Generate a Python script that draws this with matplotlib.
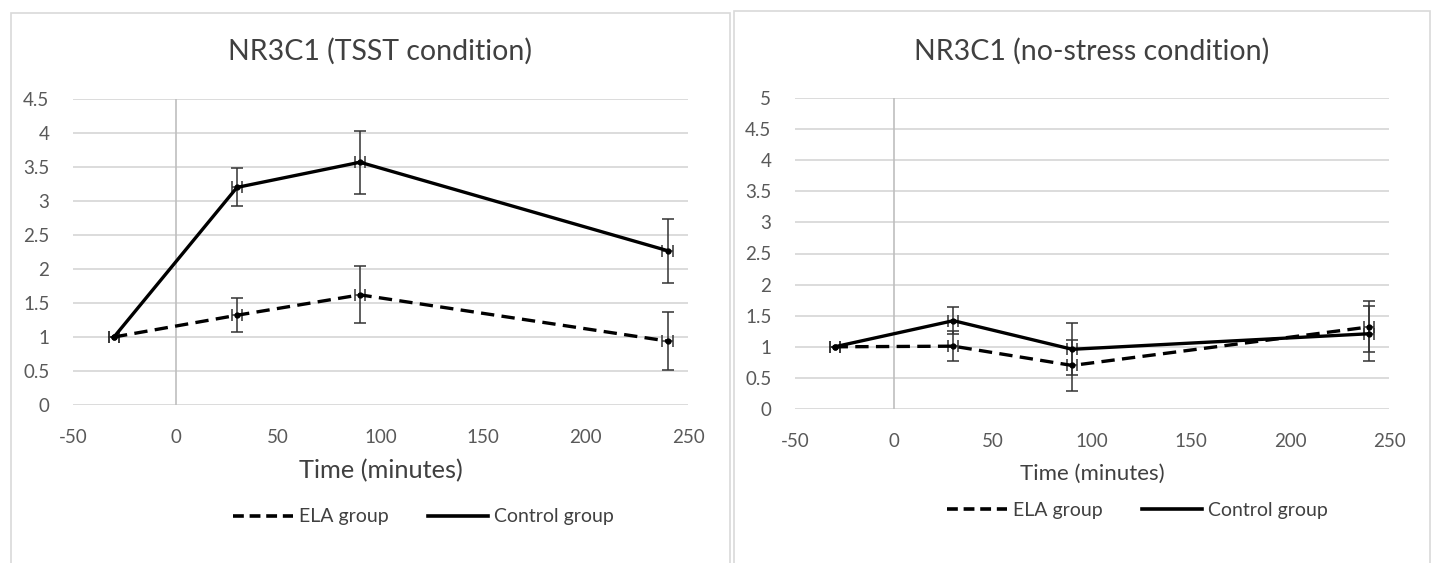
import numpy as np
import matplotlib.pyplot as plt
from matplotlib.patches import Rectangle
from matplotlib.lines import Line2D

plt.rcParams['font.family'] = ['Lato', 'DejaVu Sans']
plt.rcParams['axes.unicode_minus'] = False

# sampling times (minutes relative to stressor)
times = [-30, 30, 90, 240]

# NR3C1, TSST condition
tsst_ela = [1.0, 1.32, 1.62, 0.94]
tsst_ela_err = [0.0, 0.25, 0.42, 0.43]
tsst_ctrl = [1.0, 3.20, 3.57, 2.27]
tsst_ctrl_err = [0.0, 0.28, 0.46, 0.47]

# NR3C1, no-stress condition
ns_ela = [1.0, 1.01, 0.70, 1.32]
ns_ela_err = [0.0, 0.24, 0.41, 0.41]
ns_ctrl = [1.0, 1.42, 0.96, 1.21]
ns_ctrl_err = [0.0, 0.22, 0.42, 0.44]

xticks = [-50, 0, 50, 100, 150, 200, 250]

GRID = "#d9d9d9"
TXT = "#595959"
DASH = (0, (4, 2.2))

W, H = 1434, 563
fig = plt.figure(figsize=(W / 100, H / 100), dpi=100)

# panel frames (pixel boxes -> figure fraction)
for x0, y0, x1 in [(11, 13, 730), (734, 11, 1430)]:
    fig.patches.append(Rectangle((x0 / W, -0.01), (x1 - x0) / W, 1 - y0 / H + 0.01,
                                 transform=fig.transFigure, fill=False,
                                 edgecolor=GRID, lw=1.2))


def panel(rect, ela, ela_err, ctrl, ctrl_err, ymax, title, title_y, xl_size, xl_pad,
          leg_x, leg_y):
    ax = fig.add_axes(rect)
    ax.set_xlim(-50, 250)
    ax.set_ylim(0, ymax)
    ax.set_xticks(xticks)
    yt = np.arange(0, ymax + 0.01, 0.5)
    ax.set_yticks(yt)
    ax.set_yticklabels([f"{v:g}" for v in yt])
    ax.grid(axis="y", color=GRID, lw=1.3)
    ax.set_axisbelow(True)
    for s in ax.spines.values():
        s.set_visible(False)
    ax.axvline(0, color="#bfbfbf", lw=1.2, zorder=1)
    ax.tick_params(length=0, labelsize=13.5, labelcolor=TXT)
    ax.tick_params(axis="x", pad=17)
    ax.tick_params(axis="y", pad=17)

    ax.errorbar(times, ela, yerr=ela_err, xerr=2.5, color="black", ls=DASH,
                lw=2.4, marker="o", ms=3.5, ecolor="#333333", elinewidth=1.1,
                capsize=4, capthick=1.1, zorder=3)
    ax.errorbar(times, ctrl, yerr=ctrl_err, xerr=2.5, color="black", ls="-",
                lw=2.4, marker="o", ms=3.5, ecolor="#333333", elinewidth=1.1,
                capsize=4, capthick=1.1, zorder=3)

    ax.set_title(title, fontsize=20.5, color="#404040", y=title_y)
    ax.set_xlabel("Time (minutes)", fontsize=xl_size, color="#404040", labelpad=xl_pad)

    handles = [Line2D([], [], color="black", ls=(0, (3, 1.6)), lw=2.6),
               Line2D([], [], color="black", ls="-", lw=2.6)]
    ax.legend(handles, ["ELA group", "Control group"], loc="center",
              bbox_to_anchor=(leg_x, leg_y), ncol=2, frameon=False,
              fontsize=14, labelcolor="#404040", handlelength=3.1, columnspacing=2.0,
              handletextpad=0.3)
    return ax


panel([73 / W, 1 - 405 / H, 615 / W, 306 / H], tsst_ela, tsst_ela_err, tsst_ctrl,
      tsst_ctrl_err, 4.5, "NR3C1 (TSST condition)", 1.10, 18.3, 10, 0.57, -0.366)
panel([795 / W, 1 - 409 / H, 594 / W, 311 / H], ns_ela, ns_ela_err, ns_ctrl,
      ns_ctrl_err, 5.0, "NR3C1 (no-stress condition)", 1.095, 16, 10, 0.576, -0.325)

fig.savefig("out.png", dpi=100)
